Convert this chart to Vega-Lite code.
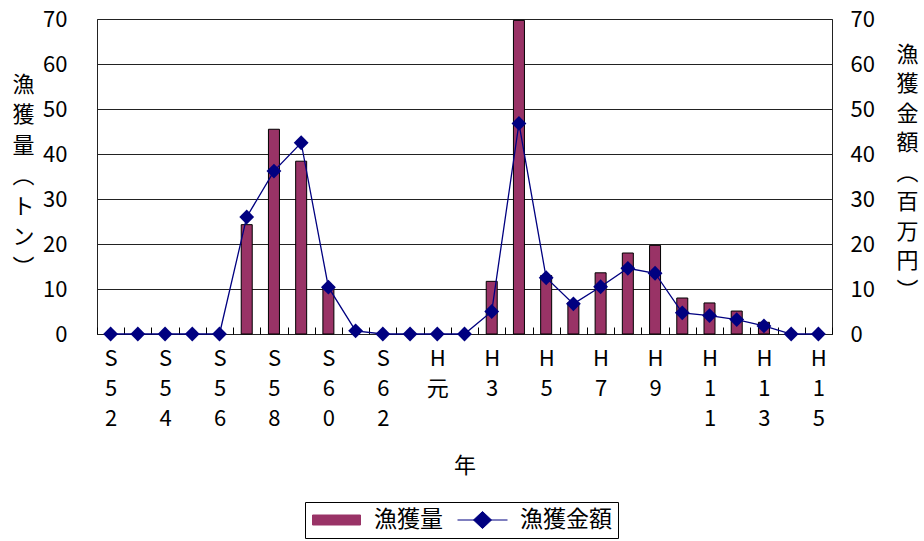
{
  "$schema": "https://vega.github.io/schema/vega-lite/v6.json",
  "width": 735,
  "height": 315,
  "autosize": {"type": "none"},
  "padding": {"left": 97, "top": 19, "right": 92, "bottom": 207},
  "background": "white",
  "config": {
    "font": "Noto Sans CJK JP",
    "view": {"stroke": "#222", "strokeWidth": 1},
    "axis": {"labelFont": "Noto Sans CJK JP", "titleFont": "Noto Sans CJK JP", "labelColor": "black", "titleColor": "black", "titleFontWeight": "normal", "labelFontSize": 22, "titleFontSize": 22},
    "legend": {"labelFont": "Noto Sans CJK JP", "labelFontSize": 23, "labelColor": "black"}
  },
  "data": {"values": [
    {"year": "S52", "catch": 0, "amount": 0},
    {"year": "S53", "catch": 0, "amount": 0},
    {"year": "S54", "catch": 0, "amount": 0},
    {"year": "S55", "catch": 0, "amount": 0},
    {"year": "S56", "catch": 0, "amount": 0},
    {"year": "S57", "catch": 24.3, "amount": 26.0},
    {"year": "S58", "catch": 45.5, "amount": 36.2},
    {"year": "S59", "catch": 38.4, "amount": 42.5},
    {"year": "S60", "catch": 10.6, "amount": 10.4},
    {"year": "S61", "catch": 0, "amount": 0.7},
    {"year": "S62", "catch": 0, "amount": 0},
    {"year": "S63", "catch": 0, "amount": 0},
    {"year": "H元", "catch": 0, "amount": 0},
    {"year": "H2", "catch": 0, "amount": 0},
    {"year": "H3", "catch": 11.7, "amount": 5.0},
    {"year": "H4", "catch": 69.7, "amount": 46.8},
    {"year": "H5", "catch": 13.0, "amount": 12.5},
    {"year": "H6", "catch": 7.0, "amount": 6.7},
    {"year": "H7", "catch": 13.6, "amount": 10.5},
    {"year": "H8", "catch": 18.0, "amount": 14.6},
    {"year": "H9", "catch": 19.7, "amount": 13.5},
    {"year": "H10", "catch": 8.0, "amount": 4.7},
    {"year": "H11", "catch": 6.9, "amount": 4.1},
    {"year": "H12", "catch": 5.1, "amount": 3.2},
    {"year": "H13", "catch": 2.6, "amount": 1.8},
    {"year": "H14", "catch": 0, "amount": 0},
    {"year": "H15", "catch": 0, "amount": 0}
  ]},
  "encoding": {
    "x": {
      "field": "year", "type": "ordinal", "sort": null,
      "scale": {"domain": ["S52","S53","S54","S55","S56","S57","S58","S59","S60","S61","S62","S63","H元","H2","H3","H4","H5","H6","H7","H8","H9","H10","H11","H12","H13","H14","H15"], "paddingInner": 0, "paddingOuter": 0},
      "axis": {
        "title": "年", "titleY": 121, "titleBaseline": "top",
        "labelExpr": "indexof(['S52','S54','S56','S58','S60','S62','H元','H3','H5','H7','H9','H11','H13','H15'], datum.value) >= 0 ? [substring(datum.value,0,1), substring(datum.value,1,2), substring(datum.value,2)] : ''",
        "labelAngle": 0, "labelLineHeight": 30, "labelBaseline": "top", "labelPadding": 21,
        "tickBand": "extent", "tickSize": -7, "tickColor": "black", "domain": false, "grid": false
      }
    }
  },
  "layer": [
    {
      "transform": [{"filter": "datum.catch > 0"}],
      "mark": {"type": "bar", "size": 11, "stroke": "black", "strokeWidth": 1},
      "encoding": {
        "y": {
          "field": "catch", "type": "quantitative",
          "scale": {"domain": [0, 70], "nice": false},
          "axis": {
            "values": [0,10,20,30,40,50,60,70], "grid": true, "gridColor": "#222", "domain": false, "ticks": false, "labelPadding": 30,
            "title": ["漁","獲","量","︵","ト","ン","︶"], "titleAngle": 0, "titleX": -74, "titleY": 55, "titleAlign": "center", "titleBaseline": "top", "titleLineHeight": 30.5
          }
        },
        "color": {
          "datum": "漁獲量", "type": "nominal",
          "scale": {"domain": ["漁獲量", "漁獲金額"], "range": ["#993366", "#000080"]},
          "legend": {
            "title": null, "orient": "none", "legendX": 208, "legendY": 483, "direction": "horizontal",
            "strokeColor": "black", "fillColor": "white", "padding": 6, "symbolSize": 2500, "clipHeight": 24,
            "labelOffset": 12, "columnPadding": 14,
            "encode": {
              "symbols": {"update": {
                "shape": {"signal": "datum.label === '漁獲金額' ? 'M-1,0H1M0,-0.34L0.36,0L0,0.34L-0.36,0Z' : 'M-0.96,-0.2H0.96V0.2H-0.96Z'"},
                "fill": {"signal": "datum.label === '漁獲金額' ? '#000080' : '#993366'"},
                "stroke": {"signal": "datum.label === '漁獲金額' ? '#000080' : 'black'"},
                "strokeWidth": {"value": 1},
                "opacity": {"value": 1}
              }}
            }
          }
        }
      }
    },
    {
      "mark": {"type": "line", "strokeWidth": 1.3, "point": {"shape": "diamond", "size": 220, "filled": true}},
      "encoding": {
        "y": {
          "field": "amount", "type": "quantitative",
          "scale": {"domain": [0, 70], "nice": false},
          "axis": {
            "orient": "right", "values": [0,10,20,30,40,50,60,70], "grid": false, "domain": false, "ticks": false, "labelPadding": 18,
            "title": ["漁","獲","金","額","︵","百","万","円","︶"], "titleAngle": 0, "titleX": 75, "titleY": 25, "titleAlign": "center", "titleBaseline": "top", "titleLineHeight": 29.5
          }
        },
        "color": {
          "datum": "漁獲金額", "type": "nominal",
          "legend": {
            "title": null, "orient": "none", "legendX": 208, "legendY": 483, "direction": "horizontal",
            "strokeColor": "black", "fillColor": "white", "padding": 6, "symbolSize": 2500, "clipHeight": 24,
            "labelOffset": 12, "columnPadding": 14,
            "encode": {
              "symbols": {"update": {
                "shape": {"signal": "datum.label === '漁獲金額' ? 'M-1,0H1M0,-0.34L0.36,0L0,0.34L-0.36,0Z' : 'M-0.96,-0.2H0.96V0.2H-0.96Z'"},
                "fill": {"signal": "datum.label === '漁獲金額' ? '#000080' : '#993366'"},
                "stroke": {"signal": "datum.label === '漁獲金額' ? '#000080' : 'black'"},
                "strokeWidth": {"value": 1},
                "opacity": {"value": 1}
              }}
            }
          }
        }
      }
    }
  ],
  "resolve": {"scale": {"y": "independent"}}
}
